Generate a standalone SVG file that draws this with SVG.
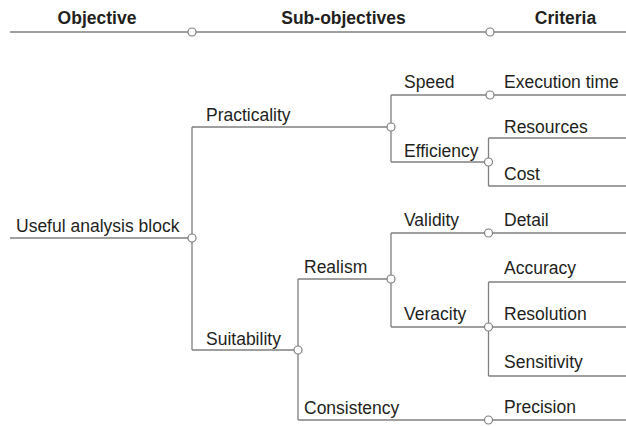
<svg xmlns="http://www.w3.org/2000/svg" width="626" height="426" viewBox="0 0 626 426">
<style>
  .ln { fill: none; stroke: #808080; stroke-width: 1.3; }
  .jn { fill: #ffffff; stroke: #808080; stroke-width: 1.2; }
  .t { font-family: "Liberation Sans", Arial, sans-serif; font-size: 17.5px; fill: #231f20; }
  .h { font-family: "Liberation Sans", Arial, sans-serif; font-size: 17.5px; font-weight: bold; fill: #231f20; text-anchor: middle; }
</style>
<rect width="626" height="426" fill="#ffffff"/>
<g id="connectors">
  <path class="ln" d="M10 32 H626"/>
  <path class="ln" d="M10 238 H192 M192 127 V350"/>
  <path class="ln" d="M192 127 H391 M391 95 V162"/>
  <path class="ln" d="M391 95 H626"/>
  <path class="ln" d="M391 162 H488.5 M488.5 138 V186 M488.5 138 H626 M488.5 186 H626"/>
  <path class="ln" d="M192 350 H298 M298 279 V420"/>
  <path class="ln" d="M298 279 H391 M391 233 V327"/>
  <path class="ln" d="M391 233 H626"/>
  <path class="ln" d="M391 327 H626 M488.5 282 V376 M488.5 282 H626 M488.5 376 H626"/>
  <path class="ln" d="M298 420 H626"/>
</g>
<g id="junctions">
  <circle class="jn" cx="192" cy="32" r="4"/>
  <circle class="jn" cx="490" cy="32" r="4"/>
  <circle class="jn" cx="192" cy="238" r="4"/>
  <circle class="jn" cx="391" cy="127" r="4"/>
  <circle class="jn" cx="490" cy="95" r="4"/>
  <circle class="jn" cx="488.5" cy="162" r="4"/>
  <circle class="jn" cx="298" cy="350" r="4"/>
  <circle class="jn" cx="391" cy="279" r="4"/>
  <circle class="jn" cx="488.5" cy="233" r="4"/>
  <circle class="jn" cx="488.5" cy="327" r="4"/>
  <circle class="jn" cx="488.5" cy="420" r="4"/>
</g>
<g id="headers">
  <text class="h" x="97" y="24">Objective</text>
  <text class="h" x="343.5" y="24">Sub-objectives</text>
  <text class="h" x="565.5" y="24">Criteria</text>
</g>
<g id="node-useful-analysis-block"><text class="t" x="16" y="232">Useful analysis block</text></g>
<g id="node-practicality"><text class="t" x="206" y="121">Practicality</text></g>
<g id="node-suitability"><text class="t" x="206" y="345">Suitability</text></g>
<g id="node-speed"><text class="t" x="404" y="88">Speed</text></g>
<g id="node-efficiency"><text class="t" x="404" y="156.5">Efficiency</text></g>
<g id="node-realism"><text class="t" x="304" y="273">Realism</text></g>
<g id="node-consistency"><text class="t" x="304" y="414">Consistency</text></g>
<g id="node-validity"><text class="t" x="404" y="226">Validity</text></g>
<g id="node-veracity"><text class="t" x="404" y="320">Veracity</text></g>
<g id="node-execution-time"><text class="t" x="504" y="88">Execution time</text></g>
<g id="node-resources"><text class="t" x="504" y="132.5">Resources</text></g>
<g id="node-cost"><text class="t" x="504" y="180">Cost</text></g>
<g id="node-detail"><text class="t" x="504" y="226">Detail</text></g>
<g id="node-accuracy"><text class="t" x="504" y="274">Accuracy</text></g>
<g id="node-resolution"><text class="t" x="504" y="320">Resolution</text></g>
<g id="node-sensitivity"><text class="t" x="504" y="368">Sensitivity</text></g>
<g id="node-precision"><text class="t" x="504" y="413">Precision</text></g>
</svg>
